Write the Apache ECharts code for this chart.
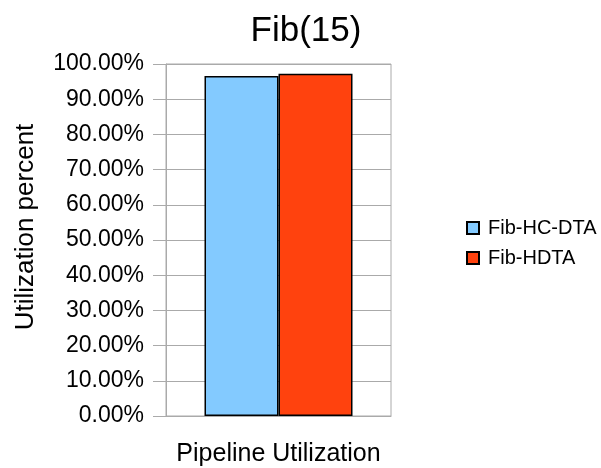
<!DOCTYPE html>
<html>
<head>
<meta charset="utf-8">
<script src="https://cdn.jsdelivr.net/npm/echarts@6/dist/echarts.min.js"></script>
<style>html,body{margin:0;padding:0;background:#fff}#c{width:601px;height:468px}</style>
</head>
<body>
<div id="c"></div>
<script>
const categories = ['Pipeline Utilization'];
const seriesNames = ['Fib-HC-DTA', 'Fib-HDTA'];
const hcdtaValues = [0.966];
const hdtaValues = [0.972];
const yTicks = [0, 0.1, 0.2, 0.3, 0.4, 0.5, 0.6, 0.7, 0.8, 0.9, 1.0];

const font = 'Liberation Sans, Arial, sans-serif';
const chart = echarts.init(document.getElementById('c'), null, {renderer: 'canvas'});
chart.setOption({
  animation: false,
  backgroundColor: '#fff',
  title: {
    text: 'Fib(15)', left: 301, top: 9, textAlign: 'center',
    textStyle: {fontFamily: font, fontSize: 35, fontWeight: 'normal', color: '#000'}
  },
  legend: {
    orient: 'vertical', left: 461, top: 213, itemWidth: 12, itemHeight: 12, itemGap: 10,
    icon: 'rect',
    textStyle: {fontFamily: font, fontSize: 20, color: '#000', padding: [0, 0, 0, 4]},
    data: seriesNames
  },
  grid: {left: 166, right: 210, top: 64, bottom: 52, show: true, borderColor: '#aaaaaa', borderWidth: 1},
  xAxis: {
    type: 'category', data: categories,
    axisLine: {lineStyle: {color: '#aaaaaa'}},
    axisTick: {alignWithLabel: true, length: 16, lineStyle: {color: '#aaaaaa'}},
    axisLabel: {fontFamily: font, fontSize: 25, color: '#000', margin: 26},
    splitLine: {show: false}
  },
  yAxis: {
    type: 'value', min: 0, max: 1, interval: 0.1,
    name: 'Utilization percent', nameLocation: 'middle', nameGap: 127, nameRotate: 90,
    nameTextStyle: {fontFamily: font, fontSize: 26, color: '#000', padding: [0, 0, 0, 26]},
    axisLine: {show: true, lineStyle: {color: '#aaaaaa'}},
    axisTick: {show: true, length: 13, lineStyle: {color: '#aaaaaa'}},
    axisLabel: {fontFamily: font, fontSize: 23, color: '#000', margin: 22,
      formatter: v => (v * 100).toFixed(2) + '%'},
    splitLine: {lineStyle: {color: '#aaaaaa', width: 1}}
  },
  series: [
    {name: seriesNames[0], type: 'bar', data: hcdtaValues, barWidth: 74, barGap: '0%',
     itemStyle: {color: '#83caff', borderColor: '#000', borderWidth: 1.5}},
    {name: seriesNames[1], type: 'bar', data: hdtaValues, barWidth: 74, barGap: '0%',
     itemStyle: {color: '#ff420e', borderColor: '#000', borderWidth: 1.5}}
  ]
});
</script>
</body>
</html>
